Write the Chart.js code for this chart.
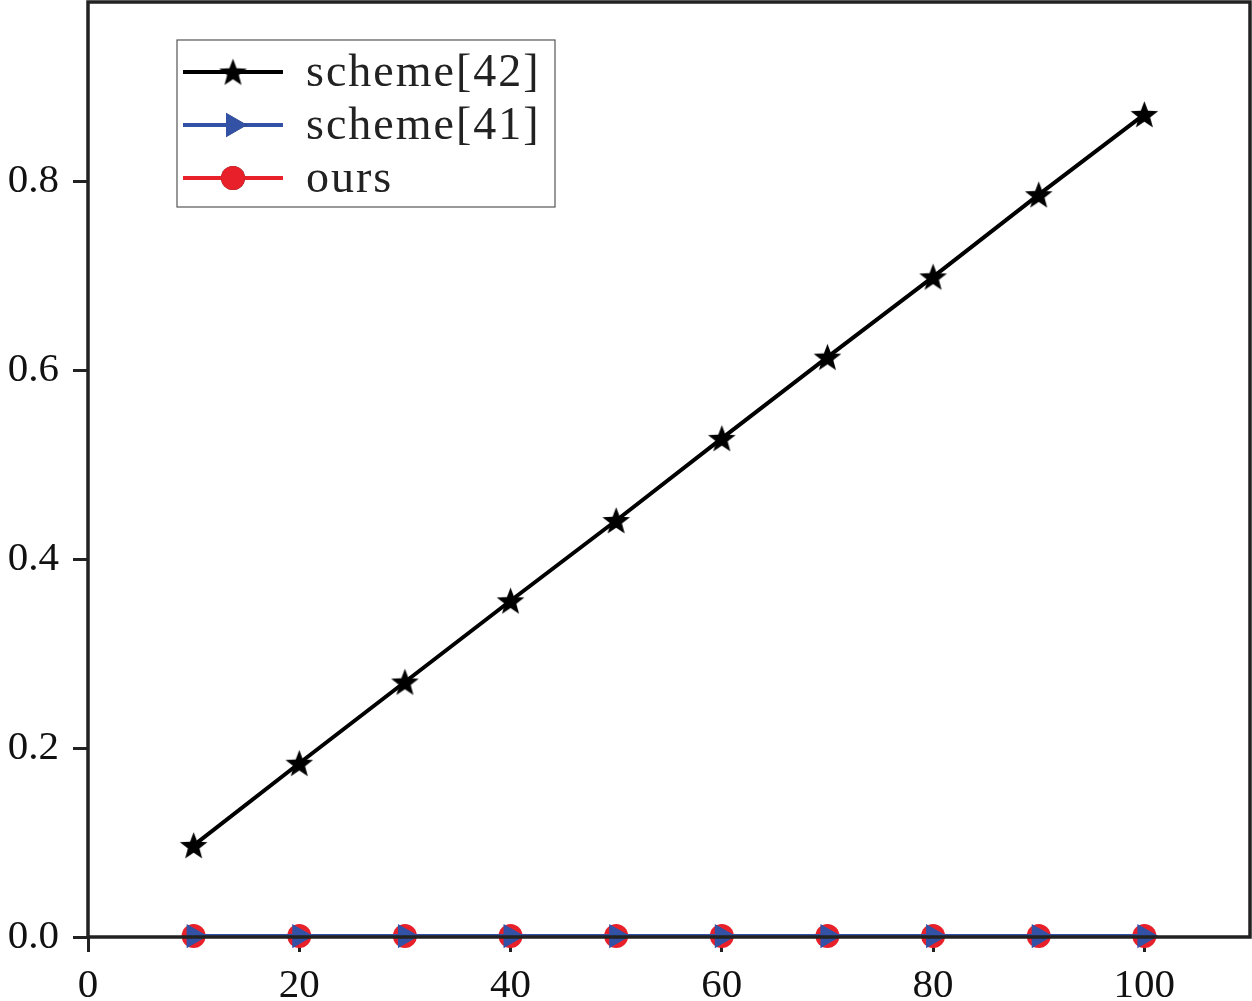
<!DOCTYPE html>
<html lang="en">
<head>
    <meta charset="UTF-8">
    <title>scheme comparison</title>
    <script src="https://cdn.jsdelivr.net/npm/chart.js@4.4.1/dist/chart.umd.min.js"></script>
    <style>
        html, body { margin: 0; padding: 0; background: #fff; }
        #wrap { width: 1252px; height: 1001px; position: relative; }
    </style>
</head>
<body>
    <div id="wrap"><canvas id="chart"></canvas></div>
    <script>
        // data
        const xValues = [10, 20, 30, 40, 50, 60, 70, 80, 90, 100];
        const scheme42 = [0.097, 0.184, 0.270, 0.356, 0.441, 0.528, 0.614, 0.699, 0.786, 0.871];
        const scheme41 = [0.001, 0.001, 0.001, 0.001, 0.001, 0.001, 0.001, 0.001, 0.001, 0.001];
        const ours = [0.001, 0.001, 0.001, 0.001, 0.001, 0.001, 0.001, 0.001, 0.001, 0.001];
        const seriesNames = ['scheme[42]', 'scheme[41]', 'ours'];
        const xTicks = [0, 20, 40, 60, 80, 100];
        const yTicks = [0.0, 0.2, 0.4, 0.6, 0.8];

        const FONT = '"Liberation Serif", "DejaVu Serif", serif';
        const BLACK = '#000000';
        const BLUE = '#3352a6';
        const RED = '#e8202a';

        // filled five point star for the black series
        function makeStar(size, color) {
            const c = document.createElement('canvas');
            c.width = size; c.height = size;
            const ctx = c.getContext('2d');
            const cx = size / 2, cy = size / 2 + size * 0.04;
            const outer = size / 2, inner = outer * 0.42;
            ctx.beginPath();
            for (let i = 0; i < 10; i++) {
                const r = i % 2 === 0 ? outer : inner;
                const a = -Math.PI / 2 + i * Math.PI / 5;
                const px = cx + r * Math.cos(a), py = cy + r * Math.sin(a);
                if (i === 0) ctx.moveTo(px, py); else ctx.lineTo(px, py);
            }
            ctx.closePath();
            ctx.fillStyle = color;
            ctx.fill();
            return c;
        }
        const starImg = makeStar(29, BLACK);

        const toPoints = arr => arr.map((v, i) => ({ x: xValues[i], y: v }));

        // axes frame drawn over the markers, like the original
        const framePlugin = {
            id: 'frame',
            afterDatasetsDraw(chart) {
                const { ctx, chartArea: a } = chart;
                ctx.save();
                ctx.strokeStyle = '#222';
                ctx.lineWidth = 3.5;
                ctx.strokeRect(a.left, a.top, a.right - a.left, a.bottom - a.top);
                ctx.restore();
            }
        };

        // boxed legend in the upper left of the plot
        const legendPlugin = {
            id: 'boxLegend',
            afterDraw(chart) {
                const { ctx } = chart;
                const bx = 177, by = 40, bw = 378, bh = 167;
                ctx.save();
                ctx.fillStyle = '#fff';
                ctx.fillRect(bx, by, bw, bh);
                ctx.strokeStyle = '#555';
                ctx.lineWidth = 1.2;
                ctx.strokeRect(bx, by, bw, bh);
                ctx.font = '46px ' + FONT;
                ctx.letterSpacing = '2px';
                ctx.textBaseline = 'middle';
                chart.data.datasets.forEach((ds, i) => {
                    const y = 72 + i * 53;
                    ctx.strokeStyle = ds.borderColor;
                    ctx.lineWidth = 4;
                    ctx.beginPath();
                    ctx.moveTo(183, y);
                    ctx.lineTo(283, y);
                    ctx.stroke();
                    Chart.helpers.drawPoint(ctx, {
                        pointStyle: ds.pointStyle,
                        rotation: ds.pointRotation || 0,
                        radius: ds.pointRadius,
                        borderWidth: 0
                    }, 233, y);
                    if (ds.pointStyle !== starImg) {
                        ctx.fillStyle = ds.pointBackgroundColor;
                        ctx.beginPath();
                        if (ds.pointStyle === 'circle') {
                            ctx.arc(233, y, ds.pointRadius, 0, Math.PI * 2);
                        } else {
                            const r = ds.pointRadius;
                            ctx.moveTo(233 + r, y);
                            ctx.lineTo(233 - r * 0.5, y - r * 0.87);
                            ctx.lineTo(233 - r * 0.5, y + r * 0.87);
                            ctx.closePath();
                        }
                        ctx.fill();
                    }
                    ctx.fillStyle = '#222';
                    ctx.fillText(ds.label, 306, y + 2);
                });
                ctx.restore();
            }
        };

        const chart = new Chart(document.getElementById('chart'), {
            type: 'line',
            data: {
                datasets: [
                    {
                        label: seriesNames[0],
                        data: toPoints(scheme42),
                        borderColor: BLACK,
                        backgroundColor: BLACK,
                        borderWidth: 4,
                        pointStyle: starImg,
                        pointRadius: 15,
                        pointBackgroundColor: BLACK,
                        clip: false
                    },
                    {
                        label: seriesNames[1],
                        data: toPoints(scheme41),
                        borderColor: BLUE,
                        backgroundColor: BLUE,
                        borderWidth: 4,
                        pointStyle: 'triangle',
                        pointRotation: 90,
                        pointRadius: 14,
                        pointBackgroundColor: BLUE,
                        pointBorderWidth: 0,
                        clip: false
                    },
                    {
                        label: seriesNames[2],
                        data: toPoints(ours),
                        borderColor: RED,
                        backgroundColor: RED,
                        borderWidth: 4,
                        pointStyle: 'circle',
                        pointRadius: 12,
                        pointBackgroundColor: RED,
                        pointBorderWidth: 0,
                        clip: false
                    }
                ]
            },
            options: {
                responsive: true,
                maintainAspectRatio: false,
                animation: false,
                events: [],
                layout: { autoPadding: false, padding: { top: 2, right: 2, left: 0, bottom: 0 } },
                plugins: {
                    legend: { display: false },
                    tooltip: { enabled: false }
                },
                scales: {
                    x: {
                        type: 'linear',
                        min: 0,
                        max: 110,
                        afterBuildTicks: s => { s.ticks = xTicks.map(v => ({ value: v })); },
                        afterFit: s => { s.height = 64; s.paddingLeft = 0; s.paddingRight = 0; },
                        border: { display: false },
                        grid: {
                            drawOnChartArea: false,
                            drawTicks: true,
                            tickLength: 15,
                            tickWidth: 3,
                            tickColor: '#222'
                        },
                        ticks: {
                            color: '#111',
                            padding: 10,
                            maxRotation: 0,
                            font: { family: FONT, size: 41 }
                        }
                    },
                    y: {
                        min: 0,
                        max: 0.99,
                        afterBuildTicks: s => { s.ticks = yTicks.map(v => ({ value: v })); },
                        afterFit: s => { s.width = 88; s.paddingTop = 0; s.paddingBottom = 0; },
                        border: { display: false },
                        grid: {
                            drawOnChartArea: false,
                            drawTicks: true,
                            tickLength: 15,
                            tickWidth: 3,
                            tickColor: '#222'
                        },
                        ticks: {
                            color: '#111',
                            padding: 14,
                            font: { family: FONT, size: 41 },
                            callback: v => v.toFixed(1)
                        }
                    }
                }
            },
            plugins: [framePlugin, legendPlugin]
        });
    </script>
</body>
</html>
